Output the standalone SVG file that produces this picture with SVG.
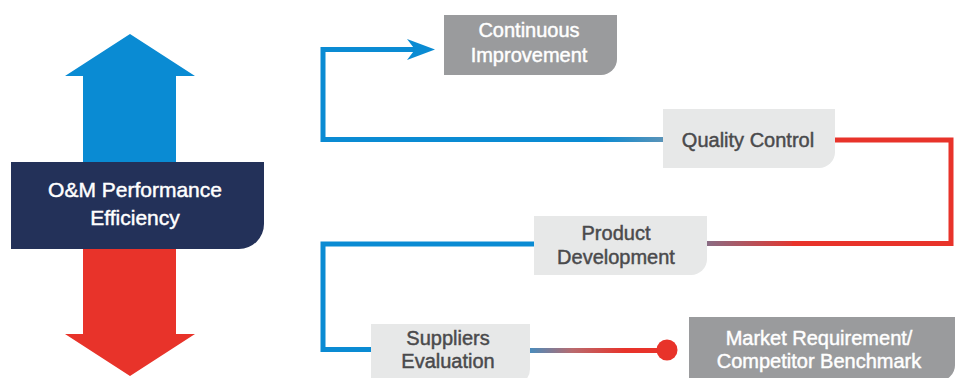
<svg xmlns="http://www.w3.org/2000/svg" width="957" height="378" viewBox="0 0 957 378">
<defs>
<style>
.txt{font-family:"Liberation Sans",Arial,sans-serif;font-size:20px;text-anchor:middle;stroke-width:0.45px}
.w{fill:#ffffff;stroke:#ffffff}
.d{fill:#4a4a4c;stroke:#4a4a4c}
.lightbox{fill:#e7e8e8}
.graybox{fill:#9a9b9d}
.conn{fill:none;stroke-width:5}
</style>
<linearGradient id="gQC" gradientUnits="userSpaceOnUse" x1="600" y1="0" x2="663" y2="0">
<stop offset="0" stop-color="#0a8bd3"/><stop offset="1" stop-color="#5a93b8"/>
</linearGradient>
<linearGradient id="gPD" gradientUnits="userSpaceOnUse" x1="707" y1="0" x2="800" y2="0">
<stop offset="0" stop-color="#8a6c84"/><stop offset="1" stop-color="#e8332a"/>
</linearGradient>
<linearGradient id="gSE" gradientUnits="userSpaceOnUse" x1="530" y1="0" x2="625" y2="0">
<stop offset="0" stop-color="#4a8cbc"/><stop offset="0.45" stop-color="#b96a6e"/><stop offset="1" stop-color="#e8332a"/>
</linearGradient>
</defs>
<rect width="957" height="378" fill="#ffffff"/>

<g id="perf-arrows">
<polygon points="130,34 195,76 176,76 176,165 83,165 83,76 65,76" fill="#0a8bd3"/>
<polygon points="83,246 176,246 176,334 195,334 130,376 65,334 83,334" fill="#e8332a"/>
</g>

<g id="connectors">
<path class="conn" stroke="#0a8bd3" d="M600,139.5 H323 V49.5 H416"/>
<path class="conn" stroke="url(#gQC)" d="M598,139.5 H664"/>
<polygon points="435,49.5 407,39 415,49.5 407,60" fill="#0a8bd3"/>
<path class="conn" stroke="#e8332a" d="M834,140 H951 V243.5 H790"/>
<path class="conn" stroke="url(#gPD)" d="M706,243.5 H792"/>
<path class="conn" stroke="#0a8bd3" d="M535,244 H323 V349.5 H372"/>
<path class="conn" stroke="url(#gSE)" d="M529,350.5 H660"/>
<circle cx="667" cy="350" r="10.5" fill="#e8332a"/>
</g>

<g id="node-om">
<path d="M11,162 H264 V224 A25,25 0 0 1 239,249 H11 Z" fill="#233159"/>
<text class="txt w" x="135" y="197" style="font-size:21px">O&amp;M Performance</text>
<text class="txt w" x="135" y="225" style="font-size:21px">Efficiency</text>
</g>

<g id="node-ci">
<path class="graybox" d="M444,15 H617 V59 A16,16 0 0 1 601,75 H444 Z"/>
<text class="txt w" x="529" y="37">Continuous</text>
<text class="txt w" x="529" y="62">Improvement</text>
</g>

<g id="node-qc">
<path class="lightbox" d="M663,109 H835 V152 A16,16 0 0 1 819,168 H663 Z"/>
<text class="txt d" x="748" y="147">Quality Control</text>
</g>

<g id="node-pd">
<path class="lightbox" d="M534,216 H707 V259 A16,16 0 0 1 691,275 H534 Z"/>
<text class="txt d" x="616" y="240">Product</text>
<text class="txt d" x="616" y="264">Development</text>
</g>

<g id="node-se">
<path class="lightbox" d="M371,324 H530 V369 A16,16 0 0 1 514,385 H371 Z"/>
<text class="txt d" x="448" y="345">Suppliers</text>
<text class="txt d" x="448" y="368">Evaluation</text>
</g>

<g id="node-mr">
<path class="graybox" d="M689,317 H955 V365 A16,16 0 0 1 939,381 H689 Z"/>
<text class="txt w" x="819" y="345">Market Requirement/</text>
<text class="txt w" x="819" y="368">Competitor Benchmark</text>
</g>
</svg>
